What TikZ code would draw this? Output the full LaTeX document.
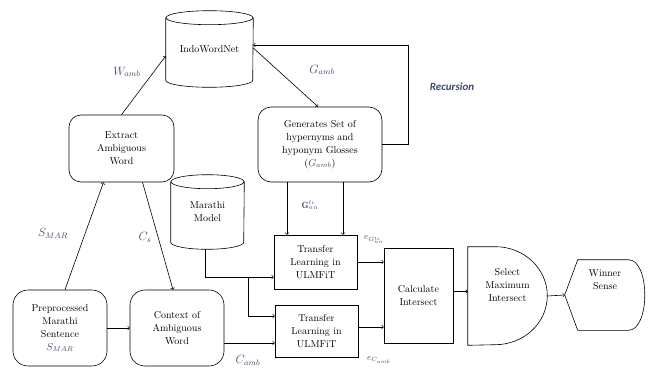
\documentclass[tikz,border=0pt]{standalone}
\usepackage{amsmath}
\usepackage{fontspec}
\newfontfamily\recfont{Carlito}
\definecolor{lblcol}{RGB}{62,72,104}

\begin{document}
\begin{tikzpicture}[x=1pt,y=-1pt,line width=.6pt,font=\rmfamily\fontsize{10}{13}\selectfont,
  every node/.style={inner sep=1pt},
  rbox/.style={draw,rounded corners=12pt,align=center},
  sbox/.style={draw,align=center},
  cylbox/.style={align=center},
  txt/.style={align=center},
  lbl/.style={text=lblcol,font=\fontsize{12}{13}\selectfont}]
\useasboundingbox (0,0) rectangle (648,369);
% boxes
\node[cylbox,minimum width=87pt,minimum height=76pt] (iwn) at (209.5,49) {IndoWordNet};
\draw ([yshift=-7pt]iwn.north) ellipse [x radius=43.5pt,y radius=7pt];
\draw ([yshift=-7pt]iwn.north west)--([yshift=7pt]iwn.south west) arc[start angle=180,end angle=360,x radius=43.5pt,y radius=7pt]--([yshift=-7pt]iwn.north east);
\node[cylbox,minimum width=73pt,minimum height=74pt] (mm) at (207.5,212) {Marathi\\Model};
\draw ([yshift=-7pt]mm.north) ellipse [x radius=36.5pt,y radius=7pt];
\draw ([yshift=-7pt]mm.north west)--([yshift=7pt]mm.south west) arc[start angle=180,end angle=360,x radius=36.5pt,y radius=7pt]--([yshift=-7pt]mm.north east);
\node[rbox,minimum width=105pt,minimum height=67pt] (extract) at (121.5,148.5) {Extract\\Ambiguous\\Word};
\node[rbox,rounded corners=13pt,minimum width=124pt,minimum height=75pt] (gen) at (320,144.5) {Generates Set of\\hypernyms and\\hyponym Glosses\\(\textcolor{lblcol}{$G_{amb}$})};
\node[rbox,rounded corners=15pt,minimum width=94pt,minimum height=76pt] (pre) at (60,328) {Preprocessed\\Marathi\\Sentence\\\textcolor{lblcol}{$S_{MAR}$}};
\node[rbox,rounded corners=15pt,minimum width=94pt,minimum height=76pt] (ctx) at (177,328) {Context of\\Ambiguous\\Word};
\node[sbox,minimum width=83pt,minimum height=54pt] (tl1) at (315.5,262) {Transfer\\Learning in\\ULMFiT};
\node[sbox,minimum width=83pt,minimum height=52pt] (tl2) at (316.5,331) {Transfer\\Learning in\\ULMFiT};
\node[sbox,minimum width=69pt,minimum height=95pt] (calc) at (418.5,295.5) {Calculate\\Intersect};
\node[minimum width=79pt,minimum height=98pt] (sel) at (507.5,296) {};
\draw (sel.north west)--([xshift=-52pt]sel.north east) arc[start angle=90,end angle=-90,x radius=52pt,y radius=49pt]--(sel.south west)--cycle;
\node[txt] (seltxt) at ([yshift=11pt]sel.center) {Select\\Maximum\\Intersect};
\node[minimum width=80pt,minimum height=70pt] (win) at (605,295) {};
\draw (win.west)--([xshift=13pt]win.north west)--([xshift=-17pt]win.north east) .. controls ([xshift=5pt]win.north east) and ([xshift=5pt]win.south east) .. ([xshift=-17pt]win.south east)--([xshift=13pt]win.south west)--cycle;
\node[txt] (wintxt) at ([yshift=15pt]win.center) {Winner\\Sense};
% connectors
\draw[->] (extract.north)--([yshift=-7pt]iwn.west);
\draw[->] ([yshift=1pt]iwn.east)--([xshift=-2pt]gen.north);
\draw[->] (gen.east)--++(26,0) |- ([yshift=4pt]iwn.east);
\draw[->] ([xshift=5pt]pre.north)--([xshift=-18pt]extract.south);
\draw[->] ([xshift=21pt]extract.south)--([xshift=-4pt]ctx.north);
\draw[->] (pre.east)--(ctx.west);
\draw[->] ([yshift=-15pt]ctx.east)--([yshift=-15pt]ctx.east -| tl2.west);
\draw[->] ([xshift=-33pt]gen.south)--([xshift=-33pt]gen.south |- tl1.north);
\draw[->] ([xshift=23pt]gen.south)--([xshift=23pt]gen.south |- tl1.north);
\draw[->] ([xshift=-2pt]mm.south) |- ([yshift=-15pt]tl1.west);
\coordinate (br) at (248,277);
\draw[->] (br) |- ([yshift=15pt]tl2.west);
\draw[->] (tl1.east)--(tl1.east -| calc.west);
\draw[->] ([yshift=4pt]tl2.east)--([yshift=4pt]tl2.east -| calc.west);
\draw[->] ([yshift=4pt]calc.east)--([yshift=4pt]calc.east -| sel.west);
\draw[->] (sel.east)--(win.west);
% labels
\node[lbl] (wamb) at (127,72) {$W_{amb}$};
\node[lbl] (gamb) at (322,70) {$G_{amb}$};
\node[text=lblcol,font=\recfont\bfseries\itshape\fontsize{11}{13}\selectfont] (rec) at (452,87) {Recursion};
\node[lbl] (smar) at (53,233) {$S_{MAR}$};
\node[lbl] (cs) at (145,237) {$C_s$};
\node[lbl] (camb) at (248,360) {$C_{amb}$};
\node[lbl,font=\small] (gnn) at (310,205) {$\mathbf{G}_{nn}^{ti}$};
\node[lbl,font=\small] (eg) at (374,240) {$e_{G_{nn}^{ti}}$};
\node[lbl,font=\small] (ec) at (379,360) {$e_{C_{amb}}$};
\end{tikzpicture}
\end{document}
